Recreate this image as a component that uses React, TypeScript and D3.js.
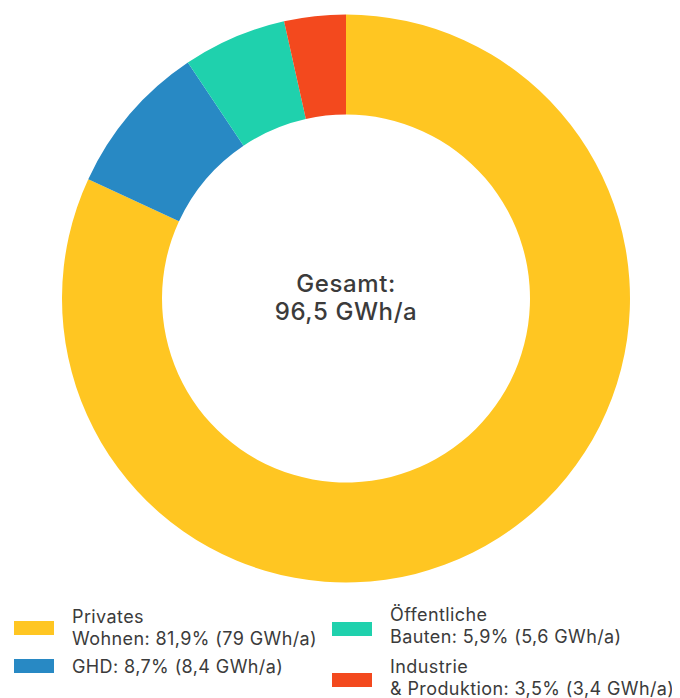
import React, { useEffect, useRef } from 'react';
import * as d3 from 'd3';

interface ISlice {
  label: string;
  value: number;
}

const categories = ['Privates Wohnen', 'GHD', 'Öffentliche Bauten', 'Industrie & Produktion'];
const values = [81.9, 8.7, 5.9, 3.5];
const colors = ['#FFC622', '#2889C4', '#1FD1AD', '#F3491E'];

// legend text lines, as in the reference
const legendLines = [
  ['Privates', 'Wohnen: 81,9% (79 GWh/a)'],
  ['GHD: 8,7% (8,4 GWh/a)'],
  ['Öffentliche', 'Bauten: 5,9% (5,6 GWh/a)'],
  ['Industrie', '& Produktion: 3,5% (3,4 GWh/a)'],
];
const centerLines = ['Gesamt:', '96,5 GWh/a'];

const width = 680;
const height = 690;
const cx = 338;
const cy = 290.5;
const outerRadius = 284;
const innerRadius = 184;
const font = 'Inter, "Noto Sans", sans-serif';
const textColor = '#3b3b3b';

const DonutChart = () => {
  const ref = useRef<SVGSVGElement>(null);

  useEffect(() => {
    const svg = d3.select(ref.current);
    svg.selectAll('*').remove();

    const data: ISlice[] = categories.map((label, i) => ({ label, value: values[i] }));

    const pieGenerator = d3
      .pie<ISlice>()
      .sort(null)
      .value((d) => d.value);

    const arcGenerator = d3
      .arc<d3.PieArcDatum<ISlice>>()
      .innerRadius(innerRadius)
      .outerRadius(outerRadius);

    const g = svg.append('g').attr('transform', `translate(${cx}, ${cy})`);

    g.selectAll('path')
      .data(pieGenerator(data))
      .enter()
      .append('path')
      .attr('d', arcGenerator)
      .style('fill', (_, i) => colors[i]);

    // center label
    g.selectAll('text.center')
      .data(centerLines)
      .enter()
      .append('text')
      .attr('class', 'center')
      .attr('text-anchor', 'middle')
      .attr('y', (_, i) => (i === 0 ? -6.5 : 21.5))
      .style('font-family', font)
      .style('font-size', '24px')
      .style('letter-spacing', '0.6px')
      .style('font-weight', 500)
      .style('fill', textColor)
      .text((d) => d);

    // legend: two columns, two rows
    const legendPos = [
      { x: 6, y: 613, textY: 615 },
      { x: 6, y: 651, textY: 665 },
      { x: 324, y: 614, textY: 613 },
      { x: 324, y: 665, textY: 665 },
    ];

    const legend = svg
      .append('g')
      .selectAll('g')
      .data(legendLines)
      .enter()
      .append('g');

    legend
      .append('rect')
      .attr('x', (_, i) => legendPos[i].x)
      .attr('y', (_, i) => legendPos[i].y)
      .attr('width', 40)
      .attr('height', 14)
      .style('fill', (_, i) => colors[i]);

    legend.each(function (lines, i) {
      const t = d3
        .select(this)
        .append('text')
        .attr('x', legendPos[i].x + 58)
        .attr('y', legendPos[i].textY)
        .style('font-family', font)
        .style('font-size', '18px')
        .style('letter-spacing', '0.4px')
        .style('fill', textColor);
      lines.forEach((line, j) => {
        t.append('tspan')
          .attr('x', legendPos[i].x + 58)
          .attr('dy', j === 0 ? 0 : 21.5)
          .text(line);
      });
    });
  }, []);

  return <svg ref={ref} width={width} height={height} style={{ display: 'block' }} />;
};

export default function App() {
  return <DonutChart />;
}
